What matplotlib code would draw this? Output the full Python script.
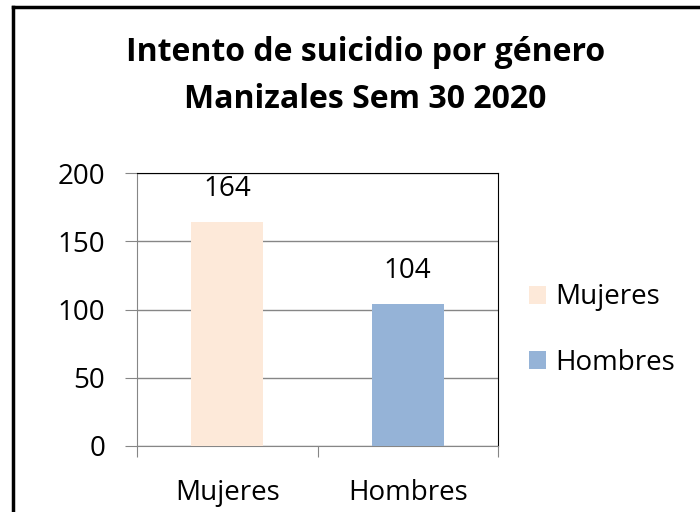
import matplotlib
matplotlib.use('Agg')
import matplotlib.pyplot as plt
from matplotlib.lines import Line2D
from matplotlib.patches import Patch

# data
categories = ['Mujeres', 'Hombres']
values = [164, 104]
colors = ['#FDE9D9', '#95B3D7']
yticks = [0, 50, 100, 150, 200]
title_lines = ['Intento de suicidio por género', 'Manizales Sem 30 2020']

plt.rcParams['font.family'] = ['Open Sans', 'DejaVu Sans']

fig = plt.figure(figsize=(7, 5.12), dpi=100)
ax = fig.add_axes([137/700, 66/512, 361/700, 273/512])

x = list(range(len(categories)))
bars = ax.bar(x, values, width=0.4, color=colors, zorder=3)
for b, v in zip(bars, values):
    ax.text(b.get_x() + b.get_width()/2, v + 24, str(v), ha='center', va='center', fontsize=20)

ax.set_xlim(-0.5, len(categories) - 0.5)
ax.set_ylim(0, 200)
ax.set_yticks(yticks)
ax.set_xticks([-0.5, 0.5, 1.5])
ax.set_xticklabels([])
ax.set_xticks(x, minor=True)
ax.set_xticklabels(categories, minor=True, fontsize=20)
ax.tick_params(axis='x', which='minor', length=0, pad=24)
ax.tick_params(axis='x', which='major', length=8, color='#868686', direction='out')
ax.tick_params(axis='y', length=9, color='#868686', labelsize=20, pad=14)
ax.yaxis.grid(True, color='#868686', linewidth=1, zorder=0)

ax.spines['left'].set_color('#868686')
ax.spines['bottom'].set_color('#868686')
ax.spines['top'].set_color('black')
ax.spines['right'].set_color('black')

fig.text(0.522, 0.898, title_lines[0], ha='center', va='center', fontsize=23, fontweight='bold')
fig.text(0.522, 0.805, title_lines[1], ha='center', va='center', fontsize=23, fontweight='bold')

handles = [Patch(facecolor=c, edgecolor='none') for c in colors]
fig.legend(handles, categories, loc='center left', bbox_to_anchor=(0.72, 0.355),
           frameon=False, fontsize=20, handlelength=0.6, handleheight=0.6,
           handletextpad=0.35, labelspacing=1.35)

# outer frame
fig.add_artist(Line2D([12.5/700, 12.5/700], [0, 1 - 6.5/512], color='black', lw=2.5))
fig.add_artist(Line2D([12.5/700, 1], [1 - 6.5/512, 1 - 6.5/512], color='black', lw=2.5))

plt.savefig('out.png')
